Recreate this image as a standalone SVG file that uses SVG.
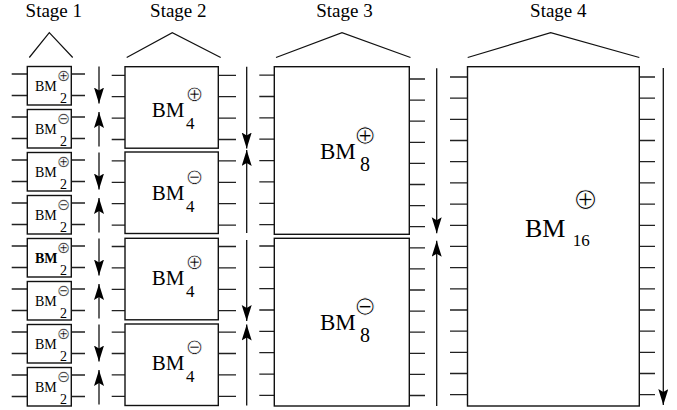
<svg xmlns="http://www.w3.org/2000/svg" width="677" height="410" viewBox="0 0 677 410">
<defs>
<marker id="ah" markerUnits="userSpaceOnUse" markerWidth="17" markerHeight="11" refX="16" refY="5" orient="auto">
<path d="M0,0 L16,5 L0,10 L3,5 z" fill="#000"/>
</marker>
<style>
.bx{fill:#fff;stroke:#111;stroke-width:1.4}
.w{stroke:#222;stroke-width:1.3;fill:none}
.ar{stroke:#111;stroke-width:1.3;fill:none;marker-end:url(#ah)}
.roof{stroke:#111;stroke-width:1.2;fill:none}
.t{font-family:"Liberation Serif","Times New Roman",serif;fill:#000}
.st{font-size:19px;text-anchor:middle}
.op{font-family:"DejaVu Sans",sans-serif;text-anchor:middle;fill:#000;stroke:#fff;paint-order:fill stroke}
.o1{font-size:16px;stroke-width:0.45}
.o2{font-size:21.5px;stroke-width:0.65}
.o3{font-size:27px;stroke-width:0.85}
.o4{font-size:30.5px;stroke-width:1}
</style>
</defs>
<rect width="677" height="410" fill="#fff"/>
<g id="labels">
<text class="t st" x="53.8" y="17">Stage 1</text>
<text class="t st" x="178.3" y="17">Stage 2</text>
<text class="t st" x="344.5" y="17">Stage 3</text>
<text class="t st" x="558.3" y="17">Stage 4</text>
<polyline class="roof" points="29.3,57.5 49.3,32.7 72.7,57.5"/>
<polyline class="roof" points="126.7,57.5 172.3,32.7 220.7,57.5"/>
<polyline class="roof" points="276,57.5 342,32.7 410.5,57.5"/>
<polyline class="roof" points="467.7,57.5 550.7,32.7 639.3,57.5"/>
</g>
<g id="connectors">
<path class="w" d="M11.7,74H27.3M11.7,95.5H27.3M11.7,117H27.3M11.7,138.5H27.3M11.7,160H27.3M11.7,181.5H27.3M11.7,203H27.3M11.7,224.5H27.3M11.7,246H27.3M11.7,267.5H27.3M11.7,289H27.3M11.7,310.5H27.3M11.7,332H27.3M11.7,353.5H27.3M11.7,375H27.3M11.7,396.5H27.3"/>
<path class="w" d="M71.3,74H85M71.3,95.5H85M71.3,117H85M71.3,138.5H85M71.3,160H85M71.3,181.5H85M71.3,203H85M71.3,224.5H85M71.3,246H85M71.3,267.5H85M71.3,289H85M71.3,310.5H85M71.3,332H85M71.3,353.5H85M71.3,375H85M71.3,396.5H85"/>
<path class="w" d="M111.7,75.3H125M111.7,96.7H125M111.7,118.1H125M111.7,139.5H125M111.7,160.9H125M111.7,182.3H125M111.7,203.7H125M111.7,225.1H125M111.7,246.5H125M111.7,267.9H125M111.7,289.3H125M111.7,310.7H125M111.7,332.1H125M111.7,353.5H125M111.7,374.9H125M111.7,396.3H125"/>
<path class="w" d="M218.3,75.3H236M218.3,96.7H236M218.3,118.1H236M218.3,139.5H236M218.3,160.9H236M218.3,182.3H236M218.3,203.7H236M218.3,225.1H236M218.3,246.5H236M218.3,267.9H236M218.3,289.3H236M218.3,310.7H236M218.3,332.1H236M218.3,353.5H236M218.3,374.9H236M218.3,396.3H236"/>
<path class="w" d="M259.3,75.2H274.3M259.3,96.5H274.3M259.3,117.9H274.3M259.3,139.2H274.3M259.3,160.6H274.3M259.3,181.9H274.3M259.3,203.3H274.3M259.3,224.6H274.3M259.3,246H274.3M259.3,267.3H274.3M259.3,288.7H274.3M259.3,310H274.3M259.3,331.4H274.3M259.3,352.7H274.3M259.3,374.1H274.3M259.3,395.4H274.3"/>
<path class="w" d="M409.3,79H425M409.3,100.1H425M409.3,121.2H425M409.3,142.3H425M409.3,163.4H425M409.3,184.5H425M409.3,205.6H425M409.3,226.7H425M409.3,247.8H425M409.3,268.9H425M409.3,290H425M409.3,311.1H425M409.3,332.2H425M409.3,353.3H425M409.3,374.4H425M409.3,395.5H425"/>
<path class="w" d="M450,77H467.5M450,98.2H467.5M450,119.4H467.5M450,140.5H467.5M450,161.7H467.5M450,182.9H467.5M450,204.1H467.5M450,225.3H467.5M450,246.4H467.5M450,267.6H467.5M450,288.8H467.5M450,310H467.5M450,331.2H467.5M450,352.3H467.5M450,373.5H467.5M450,394.7H467.5"/>
<path class="w" d="M639.3,77H655M639.3,98.2H655M639.3,119.4H655M639.3,140.5H655M639.3,161.7H655M639.3,182.9H655M639.3,204.1H655M639.3,225.3H655M639.3,246.4H655M639.3,267.6H655M639.3,288.8H655M639.3,310H655M639.3,331.2H655M639.3,352.3H655M639.3,373.5H655M639.3,394.7H655"/>
<line class="ar" x1="99" y1="66.5" x2="99" y2="103.5"/>
<line class="ar" x1="99" y1="146.5" x2="99" y2="112"/>
<line class="ar" x1="99" y1="152.5" x2="99" y2="189.5"/>
<line class="ar" x1="99" y1="232.5" x2="99" y2="198"/>
<line class="ar" x1="99" y1="238.5" x2="99" y2="275.5"/>
<line class="ar" x1="99" y1="318.5" x2="99" y2="284"/>
<line class="ar" x1="99" y1="324.5" x2="99" y2="361.5"/>
<line class="ar" x1="99" y1="404.5" x2="99" y2="370"/>
<line class="ar" x1="246.7" y1="66.7" x2="246.7" y2="148.5"/>
<line class="ar" x1="246.7" y1="233" x2="246.7" y2="150"/>
<line class="ar" x1="246.7" y1="240" x2="246.7" y2="321"/>
<line class="ar" x1="246.7" y1="405.5" x2="246.7" y2="324.5"/>
<line class="ar" x1="436.7" y1="68.3" x2="436.7" y2="233.3"/>
<line class="ar" x1="436.7" y1="406" x2="436.7" y2="240.7"/>
<line class="ar" x1="663.3" y1="68" x2="663.3" y2="405"/>
</g>
<g id="s1b0"><rect class="bx" x="27.3" y="66.5" width="44" height="38.5"/><text class="t" font-size="14" x="35" y="91">BM</text><text class="t" font-size="14" x="60" y="102.5">2</text><text class="op o1" x="63.5" y="80.8">⊕</text></g>
<g id="s1b1"><rect class="bx" x="27.3" y="109.5" width="44" height="38.5"/><text class="t" font-size="14" x="35" y="134">BM</text><text class="t" font-size="14" x="60" y="145.5">2</text><text class="op o1" x="63.5" y="123.8">⊖</text></g>
<g id="s1b2"><rect class="bx" x="27.3" y="152.5" width="44" height="38.5"/><text class="t" font-size="14" x="35" y="177">BM</text><text class="t" font-size="14" x="60" y="188.5">2</text><text class="op o1" x="63.5" y="166.8">⊕</text></g>
<g id="s1b3"><rect class="bx" x="27.3" y="195.5" width="44" height="38.5"/><text class="t" font-size="14" x="35" y="220">BM</text><text class="t" font-size="14" x="60" y="231.5">2</text><text class="op o1" x="63.5" y="209.8">⊖</text></g>
<g id="s1b4"><rect class="bx" x="27.3" y="238.5" width="44" height="38.5"/><text class="t" font-size="14" font-weight="bold" x="35" y="263">BM</text><text class="t" font-size="14" x="60" y="274.5">2</text><text class="op o1" x="63.5" y="252.8">⊕</text></g>
<g id="s1b5"><rect class="bx" x="27.3" y="281.5" width="44" height="38.5"/><text class="t" font-size="14" x="35" y="306">BM</text><text class="t" font-size="14" x="60" y="317.5">2</text><text class="op o1" x="63.5" y="295.8">⊖</text></g>
<g id="s1b6"><rect class="bx" x="27.3" y="324.5" width="44" height="38.5"/><text class="t" font-size="14" x="35" y="349">BM</text><text class="t" font-size="14" x="60" y="360.5">2</text><text class="op o1" x="63.5" y="338.8">⊕</text></g>
<g id="s1b7"><rect class="bx" x="27.3" y="367.5" width="44" height="38.5"/><text class="t" font-size="14" x="35" y="392">BM</text><text class="t" font-size="14" x="60" y="403.5">2</text><text class="op o1" x="63.5" y="381.8">⊖</text></g>
<g id="s2b0"><rect class="bx" x="125" y="66.7" width="93.3" height="81.5"/><text class="t" font-size="21" x="151.7" y="117">BM</text><text class="t" font-size="17" x="186" y="129">4</text><text class="op o2" x="194.5" y="101.2">⊕</text></g>
<g id="s2b1"><rect class="bx" x="125" y="152" width="93.3" height="81.5"/><text class="t" font-size="21" x="151.7" y="200">BM</text><text class="t" font-size="17" x="186" y="212">4</text><text class="op o2" x="194.5" y="184.2">⊖</text></g>
<g id="s2b2"><rect class="bx" x="125" y="238.3" width="93.3" height="81.5"/><text class="t" font-size="21" x="151.7" y="285">BM</text><text class="t" font-size="17" x="186" y="297">4</text><text class="op o2" x="194.5" y="269.2">⊕</text></g>
<g id="s2b3"><rect class="bx" x="125" y="324" width="93.3" height="81.5"/><text class="t" font-size="21" x="151.7" y="370">BM</text><text class="t" font-size="17" x="186" y="382">4</text><text class="op o2" x="194.5" y="354.2">⊖</text></g>
<g id="s3b0"><rect class="bx" x="274.3" y="66.7" width="135" height="167.6"/><text class="t" font-size="23" x="320" y="159">BM</text><text class="t" font-size="20" x="360" y="171">8</text><text class="op o3" x="365.3" y="143.9">⊕</text></g>
<g id="s3b1"><rect class="bx" x="274.3" y="238.3" width="135" height="167.7"/><text class="t" font-size="23" x="320" y="330">BM</text><text class="t" font-size="20" x="360" y="342">8</text><text class="op o3" x="365.3" y="314.9">⊖</text></g>
<g id="s4b0"><rect class="bx" x="467.5" y="66.7" width="171.8" height="339.3"/><text class="t" font-size="26" x="525" y="236.7">BM</text><text class="t" font-size="17" x="572.7" y="245.5">16</text><text class="op o4" x="585.5" y="208.6">⊕</text></g>
</svg>
